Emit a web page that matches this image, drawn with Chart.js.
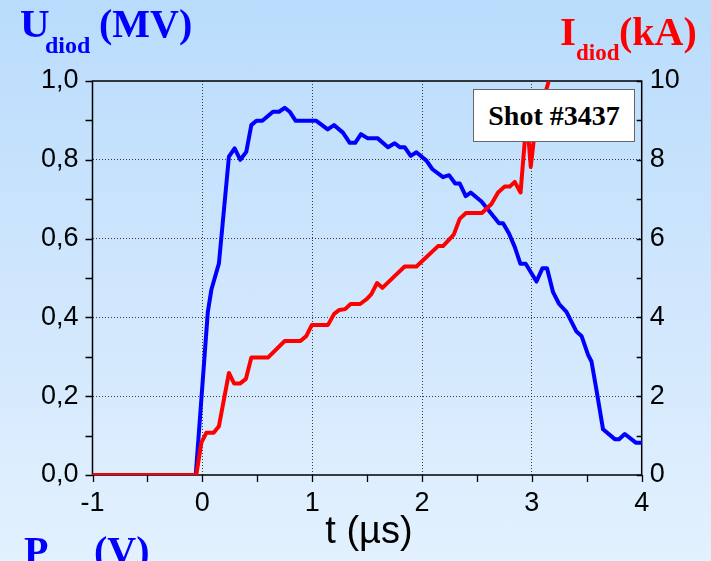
<!DOCTYPE html>
<html>
<head>
<meta charset="utf-8">
<script src="https://cdn.jsdelivr.net/npm/chart.js@4/dist/chart.umd.min.js"></script>
<style>
  html, body { margin: 0; padding: 0; }
  #wrap {
    position: relative; width: 711px; height: 561px; overflow: hidden;
    background: linear-gradient(to bottom, #b9dcfc 0%, #cfe6fd 50%, #e3f1fe 100%);
  }
  #c { position: absolute; left: 0; top: 0; }
  .lbl { position: absolute; white-space: nowrap; line-height: 1; font-family: "Liberation Serif", "Times New Roman", serif; font-weight: bold; }
  .blue { color: #0000ff; }
  .red { color: #ff0000; }
  #xtitle { position: absolute; white-space: nowrap; line-height: 1; font-family: "Liberation Sans", Arial, sans-serif; font-size: 38px; color: #000; left: 0; width: 738px; text-align: center; }
  #shot {
    position: absolute; left: 473px; top: 89px; width: 162px; height: 53px; box-sizing: border-box;
    background: #fff; border: 1.5px solid #666;
    display: flex; align-items: center; justify-content: center;
    font-family: "Liberation Serif", "Times New Roman", serif; font-weight: bold; font-size: 28px; color: #000;
  }
</style>
</head>
<body>
<div id="wrap">
  <canvas id="c" width="711" height="561"></canvas>
  <span class="lbl blue" style="left:20px; top:3px; font-size:41px;">U</span>
  <span class="lbl blue" style="left:45px; top:33px; font-size:24px;">diod</span>
  <span class="lbl blue" style="left:99px; top:4px; font-size:40px;">(MV)</span>
  <span class="lbl red" style="left:560px; top:11px; font-size:41px;">I</span>
  <span class="lbl red" style="left:576px; top:41px; font-size:23px;">diod</span>
  <span class="lbl red" style="left:619px; top:12px; font-size:40px;">(kA)</span>
  <span class="lbl blue" style="left:24px; top:531px; font-size:40px;">P</span>
  <span class="lbl blue" style="left:94px; top:531px; font-size:40px;">(V)</span>
  <div id="xtitle" style="top:511px;">t (µs)</div>
  <div id="shot">Shot #3437</div>
</div>
<script>
// Diode voltage U (MV) versus time t (µs)
const tU = [-1, -0.06, 0.05, 0.082, 0.151, 0.242, 0.294, 0.346, 0.40, 0.446, 0.492, 0.546, 0.643, 0.698, 0.75, 0.795, 0.85, 1.038, 1.141, 1.199, 1.28, 1.342, 1.392, 1.444, 1.503, 1.594, 1.69, 1.751, 1.797, 1.842, 1.897, 1.949, 2.04, 2.095, 2.191, 2.246, 2.302, 2.343, 2.398, 2.443, 2.541, 2.617, 2.701, 2.738, 2.792, 2.844, 2.896, 2.944, 3.042, 3.097, 3.138, 3.193, 3.248, 3.315, 3.406, 3.452, 3.512, 3.543, 3.588, 3.648, 3.755, 3.794, 3.846, 3.946, 4.0];
const uDiod = [0, 0, 0.414, 0.47, 0.537, 0.808, 0.829, 0.80, 0.82, 0.888, 0.899, 0.899, 0.922, 0.922, 0.932, 0.922, 0.899, 0.899, 0.877, 0.888, 0.869, 0.843, 0.843, 0.865, 0.855, 0.855, 0.832, 0.842, 0.832, 0.832, 0.81, 0.819, 0.798, 0.776, 0.756, 0.761, 0.740, 0.740, 0.708, 0.717, 0.694, 0.668, 0.639, 0.639, 0.613, 0.579, 0.536, 0.536, 0.491, 0.525, 0.525, 0.464, 0.434, 0.414, 0.364, 0.353, 0.305, 0.288, 0.216, 0.116, 0.091, 0.091, 0.104, 0.082, 0.082];

// Diode current I (kA) versus time t (µs)
const tI = [-1, -0.055, -0.009, 0.036, 0.103, 0.151, 0.242, 0.29, 0.342, 0.397, 0.446, 0.597, 0.75, 0.893, 0.947, 0.997, 1.144, 1.2, 1.247, 1.30, 1.35, 1.437, 1.494, 1.539, 1.59, 1.639, 1.736, 1.842, 1.949, 2.146, 2.191, 2.289, 2.343, 2.40, 2.545, 2.632, 2.692, 2.753, 2.799, 2.844, 2.897, 2.935, 2.965, 2.99, 3.026, 3.081, 3.149];
const iDiod = [0, 0, 0.82, 1.07, 1.07, 1.24, 2.59, 2.32, 2.32, 2.44, 2.98, 2.98, 3.40, 3.40, 3.53, 3.81, 3.81, 4.09, 4.19, 4.21, 4.34, 4.34, 4.46, 4.59, 4.87, 4.75, 5.01, 5.29, 5.29, 5.81, 5.81, 6.10, 6.50, 6.65, 6.65, 6.88, 7.17, 7.32, 7.32, 7.44, 7.17, 8.46, 8.71, 7.82, 8.71, 9.31, 9.95];

// Axis ranges
const tRange = [-1, 4];
const uRange = [0, 1.0];
const iRange = [0, 10];

const toPoints = (xs, ys) => xs.map((x, k) => ({ x, y: ys[k] }));

const gridColor = 'rgba(30,30,30,0.85)';
const tickFont = { family: '"Liberation Sans", Arial, sans-serif', size: 27 };

// Black frame around the plot, outward ticks left/bottom, inward ticks right
const frameTicks = {
  id: 'frameTicks',
  beforeDatasetsDraw(chart) {
    const { ctx, chartArea: a, scales } = chart;
    ctx.save();
    ctx.strokeStyle = '#000';
    ctx.lineWidth = 1.5;
    ctx.strokeRect(a.left, a.top, a.right - a.left, a.bottom - a.top);
    ctx.lineWidth = 1.3;
    ctx.beginPath();
    scales.x.ticks.forEach(t => {
      const px = Math.round(scales.x.getPixelForValue(t.value)) + 0.5;
      ctx.moveTo(px, a.bottom); ctx.lineTo(px, a.bottom + 7);
    });
    scales.y.ticks.forEach(t => {
      const py = Math.round(scales.y.getPixelForValue(t.value)) + 0.5;
      ctx.moveTo(a.left - 7, py); ctx.lineTo(a.left, py);
    });
    scales.y2.ticks.forEach(t => {
      const py = Math.round(scales.y2.getPixelForValue(t.value)) + 0.5;
      ctx.moveTo(a.right, py); ctx.lineTo(a.right - 5, py);
    });
    ctx.stroke();
    ctx.restore();
  }
};

new Chart(document.getElementById('c'), {
  type: 'line',
  data: {
    datasets: [
      { label: 'U diod', order: 1, data: toPoints(tU, uDiod), yAxisID: 'y', borderColor: '#0000ff', borderWidth: 4, pointRadius: 0, tension: 0, borderJoinStyle: 'round', borderCapStyle: 'round' },
      { label: 'I diod', order: 0, data: toPoints(tI, iDiod), yAxisID: 'y2', borderColor: '#ff0000', borderWidth: 4, pointRadius: 0, tension: 0, borderJoinStyle: 'round', borderCapStyle: 'round' }
    ]
  },
  options: {
    responsive: false,
    animation: false,
    devicePixelRatio: 1,
    layout: { padding: { top: 81, left: 0, right: 0, bottom: 0 } },
    plugins: { legend: { display: false }, tooltip: { enabled: false } },
    scales: {
      x: {
        type: 'linear', min: tRange[0], max: tRange[1],
        afterFit: s => { s.height = 86; },
        border: { display: false, dash: [1, 2] },
        grid: {
          drawTicks: false,
          lineWidth: 1,
          color: c => (c.tick && Number.isInteger(c.tick.value) && c.tick.value > tRange[0] && c.tick.value < tRange[1]) ? gridColor : 'transparent'
        },
        ticks: {
          stepSize: 0.5, autoSkip: false, maxRotation: 0, padding: 12, color: '#000', font: tickFont,
          callback: v => Number.isInteger(v) ? String(v) : ''
        }
      },
      y: {
        type: 'linear', position: 'left', min: uRange[0], max: uRange[1],
        afterFit: s => { s.width = 92.5; },
        border: { display: false, dash: [1, 2] },
        grid: {
          drawTicks: false,
          lineWidth: 1,
          color: c => {
            if (!c.tick) return 'transparent';
            const k = Math.round(c.tick.value * 10);
            return (k % 2 === 0 && k > 0 && k < 10) ? gridColor : 'transparent';
          }
        },
        ticks: {
          stepSize: 0.1, autoSkip: false, padding: 14, color: '#000', font: tickFont,
          callback: v => {
            const k = Math.round(v * 10);
            return k % 2 === 0 ? (k / 10).toFixed(1).replace('.', ',') : '';
          }
        }
      },
      y2: {
        type: 'linear', position: 'right', min: iRange[0], max: iRange[1],
        afterFit: s => { s.width = 69.3; },
        border: { display: false },
        grid: { drawTicks: false, drawOnChartArea: false },
        ticks: {
          stepSize: 1, autoSkip: false, padding: 8, color: '#000', font: tickFont,
          callback: v => (Math.round(v) % 2 === 0 ? String(Math.round(v)) : '')
        }
      }
    }
  },
  plugins: [frameTicks]
});
</script>
</body>
</html>
